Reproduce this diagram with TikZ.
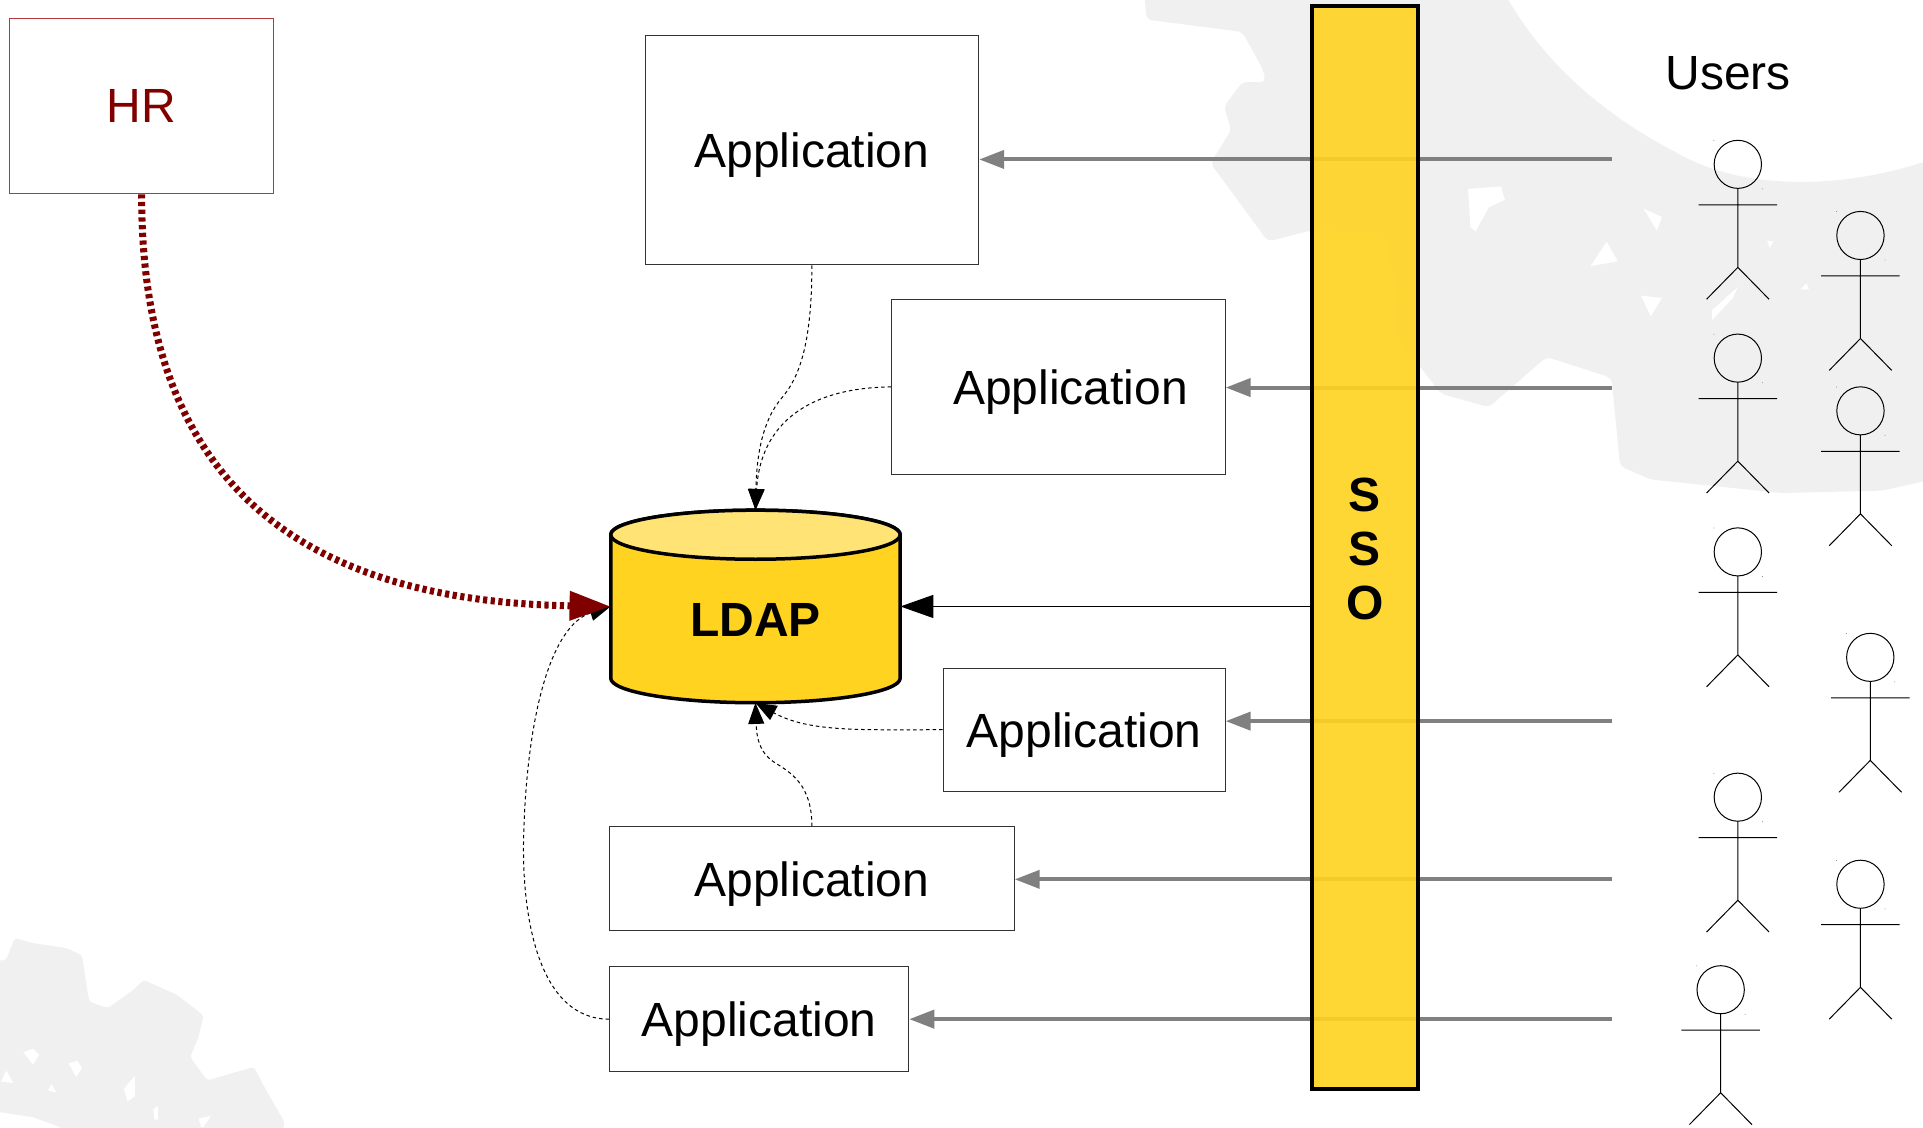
\documentclass[tikz,border=0pt]{standalone}
\usepackage{fontspec}
\setmainfont{Liberation Sans}
\usetikzlibrary{arrows.meta}
\definecolor{blob}{HTML}{F0F0F0}
\definecolor{hrred}{HTML}{800000}
\definecolor{hrline}{HTML}{B03A3A}
\definecolor{ssofill}{HTML}{FFD320}
\definecolor{cyltop}{HTML}{FFE375}
\definecolor{gline}{HTML}{808080}
\definecolor{boxline}{HTML}{333333}
\newcommand{\bigfont}{\fontsize{48}{57}\selectfont}
\newcommand{\apptext}{\raisebox{-17.4pt}[0pt][0pt]{Application}}
\tikzset{
  appbox/.style={draw=boxline,line width=1pt,fill=white,inner sep=0pt,font=\bigfont},
  hrbox/.style={draw=hrline,line width=1pt,fill=white,inner sep=0pt,font=\bigfont,text=hrred},
  ssobox/.style={draw=black,line width=4pt,fill=ssofill,fill opacity=.9,text opacity=1,inner sep=0pt,align=center,font=\fontsize{48}{54}\selectfont\bfseries},
  plainlabel/.style={inner sep=0pt,font=\bigfont},
  cylline/.style={draw=black,line width=3.5pt,line join=round},
  dashlink/.style={draw=black,line width=1pt,dash pattern=on 3.5pt off 3pt,-{Triangle[length=21pt,width=16pt]}},
  solidlink/.style={draw=black,line width=1.3pt,-{Triangle[length=33pt,width=23pt]}},
  greylink/.style={draw=gline,line width=4pt,-{Triangle[length=25pt,width=18pt]}},
  hrlink/.style={draw=hrred,line width=7pt,dash pattern=on 4.2pt off 3.5pt,-{Triangle[length=41pt,width=28pt,color=hrred]}},
  actor/.pic={
    \draw[black,line width=1pt] (0,0) ellipse [x radius=19.3,y radius=19.6];
    \draw[black,line width=1pt] (0,19.6) -- (0,84) (-32,33) -- (32,33) (-25.5,110) -- (0,84) -- (25.5,110);
    \fill[gray] (-19.5,-19.5) circle (.5pt) (20,20) circle (.5pt);
  }
}
\begin{document}
\begin{tikzpicture}[x=1.2264pt,y=-1.2264pt]
\useasboundingbox (0,0) rectangle (1568,919);
\fill[white] (0,0) rectangle (1568,919);
% background
\fill[blob,rounded corners=5pt] (933,-5) -- (935,16) -- (1013,26) -- (1030,57) -- (1032,67) -- (1013,67) -- (998,87) -- (1004,106) -- (987,133) -- (1034,197) -- (1068,188) -- (1128,190) -- (1140,240) -- (1137,272) -- (1175,321) -- (1214,332) -- (1261,291) -- (1314,308) -- (1321,380) -- (1346,391) -- (1453,402) -- (1535,400) -- (1575,391) -- (1575,130) [sharp corners] .. controls (1500,155) and (1420,155) .. (1368,125) .. controls (1300,90) and (1255,45) .. (1227,-5) -- cycle;
\fill[white] (1197,154) -- (1224,152) -- (1227,163) -- (1214,169) -- (1203,189) -- (1199,185) -- cycle
 (1310,197) -- (1319,213) -- (1297,217) -- cycle
 (1340,170) -- (1355,177) -- (1351,188) -- cycle
 (1338,241) -- (1355,243) -- (1346,258) -- cycle
 (1441,196) -- (1446,197) -- (1443,202) -- cycle
 (1473,231) -- (1475,236) -- (1468,236) -- cycle
 (1396,253) -- (1417,234) -- (1413,243) -- (1396,261) -- cycle;
\fill[blob,rounded corners=3pt] (-5,783) -- (5,783) -- (12,765) -- (27,769) -- (54,773) -- (67,779) -- (71,807) -- (73,817) -- (88,822) -- (109,807) -- (117,799) -- (144,811) -- (166,828) -- (162,845) -- (155,862) -- (169,881) -- (207,870) -- (217,889) -- (232,915) -- (230,925) -- (49,925) [sharp corners] -- (49,919) -- (27,911) -- (-5,906) -- cycle;
\fill[white] (19,858) -- (27,855) -- (32,860) -- (27,868) -- cycle
 (56,867) -- (63,865) -- (67,871) -- (62,878) -- cycle
 (5,873) -- (11,883) -- (1,882) -- cycle
 (42,884) -- (46,891) -- (39,889) -- cycle
 (101,888) -- (110,877) -- (110,894) -- (104,898) -- cycle
 (125,904) -- (129,902) -- (129,913) -- (126,913) -- cycle
 (162,912) -- (172,910) -- (166,919) -- (164,919) -- cycle;
% boxes
\node[hrbox,minimum width=263.7pt,minimum height=175.4pt] (hr) at (115.5,86.5) {HR};
\node[appbox,minimum width=333.6pt,minimum height=229.3pt] (app1) at (662,122.5) {\apptext};
\node[appbox,minimum width=333.6pt,minimum height=175.4pt] (app2) at (863,315.5) {\hspace*{24.5pt}\apptext};
\node[appbox,minimum width=282pt,minimum height=122.6pt] (app3) at (884,595) {\apptext};
\node[appbox,minimum width=404.7pt,minimum height=104.2pt] (app4) at (662,716.5) {\apptext};
\node[appbox,minimum width=299.2pt,minimum height=105.5pt] (app5) at (619,831) {\apptext};
% cylinder
\path[cylline,fill=ssofill] (498,436) -- (498,553) arc [start angle=180,end angle=360,x radius=118,y radius=-20] -- (734,436) arc [start angle=0,end angle=180,x radius=118,y radius=-20] -- cycle;
\path[cylline,fill=cyltop] (616,436) ellipse [x radius=118,y radius=20];
\node[inner sep=0pt,minimum width=289.4pt,minimum height=192.5pt] (ldap) at (616,494.5) {};
\node[plainlabel,font=\bigfont\bfseries] (ldaptext) at (616,505.5) {LDAP};
\node[plainlabel] (users) at (1409,60) {Users};
% free ends
\coordinate (u1) at (1314,130);
\coordinate (u2) at (1314,316);
\coordinate (u3) at (1314,588);
\coordinate (u4) at (1314,717);
\coordinate (u5) at (1314,831);
% connectors
\draw[greylink] (u1) -- (u1 -| app1.east);
\draw[greylink] (u2) -- (u2 -| app2.east);
\draw[greylink] (u3) -- (u3 -| app3.east);
\draw[greylink] (u4) -- (u4 -| app4.east);
\draw[greylink] (u5) -- (u5 -| app5.east);
\draw[dashlink] (app1.south) .. controls (662,285) and (650,310) .. (637,325) .. controls (622,343) and (617,370) .. (ldap.north);
\draw[dashlink] (app2.west) .. controls (660,316) and (620,345) .. (ldap.north);
\draw[dashlink] (app3.west) .. controls (700,595) and (660,597) .. (ldap.south);
\draw[dashlink] (app4.north) .. controls (662,640) and (645,630) .. (632,622) .. controls (618,613) and (617,600) .. (ldap.south);
\draw[dashlink] (app5.west) .. controls (440,831) and (425,750) .. (427,680) .. controls (430,580) and (450,510) .. (ldap.west);
\draw[hrlink] (hr.south) .. controls (115,380) and (230,490) .. (ldap.west);
% SSO
\node[ssobox,minimum width=106.7pt,minimum height=1083pt,text depth=0pt] (sso) at (1113,446.5) {\raisebox{-2pt}{S}\\\raisebox{-2pt}{S}\\\raisebox{-2pt}{O}};
\coordinate (ssoL) at (sso.west |- ldap.east);
\draw[solidlink] (ssoL) -- (ldap.east);
% actors
\foreach \ax/\ay in {1417/134,1517/192,1417/292,1517/335,1417/450,1525/536,1417/650,1517/721,1403/807}
  \pic at (\ax,\ay) {actor};
\end{tikzpicture}
\end{document}
